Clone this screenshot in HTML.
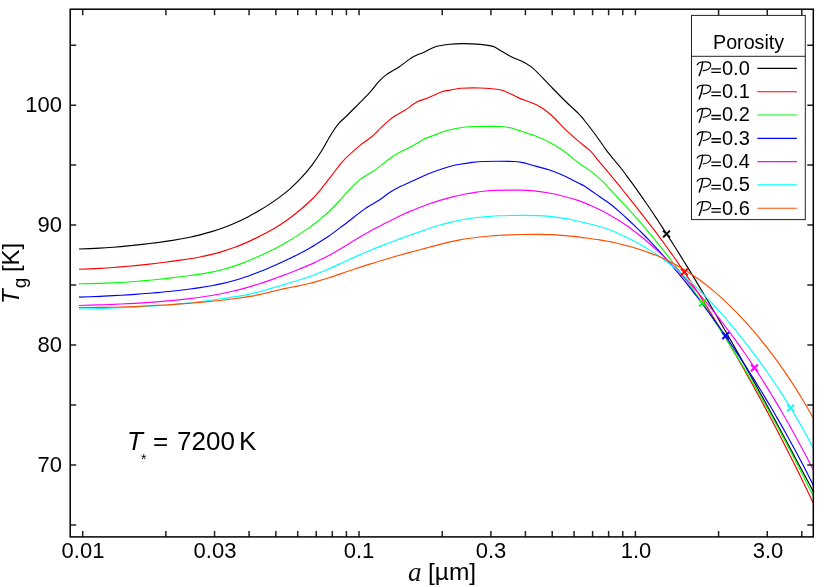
<!DOCTYPE html><html><head><meta charset="utf-8"><title>plot</title><style>
html,body{margin:0;padding:0;background:#fff;}
body{width:830px;height:587px;position:relative;overflow:hidden;font-family:"Liberation Sans",sans-serif;color:#000;}
.t{position:absolute;white-space:nowrap;line-height:1;will-change:transform;}
.xt{font-size:22px;transform:translateX(-50%);top:539.6px;}
.yt{font-size:22px;text-align:right;width:60px;left:1.7px;}
.lg{font-size:20px;left:721.9px;}
</style></head><body>
<svg width="830" height="587" viewBox="0 0 830 587" style="position:absolute;left:0;top:0">
<rect x="0" y="0" width="830" height="587" fill="#fff"/>
<defs><clipPath id="cp"><rect x="70.2" y="9.2" width="743.1" height="527.7"/></clipPath></defs>
<g clip-path="url(#cp)" fill="none" stroke-width="1.15" stroke-linejoin="round">
<path d="M79,249C81.8,248.89 95.41,248.42 100,248.18C104.59,247.94 109.67,247.53 113.4,247.22C117.13,246.91 124.15,246.26 128,245.88C131.85,245.5 138.43,244.77 142.3,244.34C146.17,243.91 153.15,243.11 157,242.62C160.85,242.13 166.8,241.39 171.2,240.67C175.6,239.95 186.16,238.01 190,237.24C193.84,236.47 197.11,235.65 200,234.91C202.89,234.17 208.77,232.56 211.7,231.67C214.63,230.78 219.11,229.28 222,228.22C224.89,227.16 229.96,225.21 233.4,223.7C236.84,222.19 244.24,218.71 247.8,216.89C251.36,215.07 257.14,211.8 260.1,210.06C263.06,208.32 267.35,205.63 270,203.87C272.65,202.11 277.33,198.88 280,196.88C282.67,194.88 287.33,191.2 290,188.84C292.67,186.48 297.12,182.31 300,179.2C302.88,176.09 308.71,169.35 311.6,165.55C314.49,161.75 319.01,155 321.7,150.7C324.39,146.4 329.49,136.97 331.8,133.3C334.11,129.63 337.03,125.51 339,123.2C340.97,120.89 343.95,118.61 346.6,116C349.25,113.39 355.91,106.61 358.9,103.6C361.89,100.59 366.29,96.39 369,93.4C371.71,90.41 376.88,83.71 379.2,81.2C381.52,78.69 383.71,76.53 386.4,74.6C389.09,72.67 395.93,69.01 399.4,66.7C402.87,64.39 409.12,59.23 412.4,57.3C415.68,55.37 420.92,53.61 424,52.2C427.08,50.79 432.03,47.77 435.5,46.7C438.97,45.63 446.33,44.61 450,44.2C453.67,43.79 459,43.57 463,43.6C467,43.63 476,44.03 480,44.4C484,44.77 490.11,45.49 493,46.4C495.89,47.31 499.19,49.79 501.7,51.2C504.21,52.61 509.11,55.65 511.8,57C514.49,58.35 519.39,60.05 521.9,61.3C524.41,62.55 528.48,64.85 530.6,66.4C532.72,67.95 534.91,70.02 537.8,72.9C540.69,75.78 548.45,84.05 552.3,88C556.15,91.95 563.23,99.13 566.7,102.5C570.17,105.87 575.98,110.97 578.3,113.3C580.62,115.63 582.23,117.71 584.1,120C585.97,122.29 590.29,127.83 592.3,130.5C594.31,133.17 597.28,137.31 599.2,140C601.12,142.69 604.73,148.06 606.7,150.69C608.67,153.32 612.07,157.37 614,159.75C615.93,162.13 619.33,166.13 621.2,168.51C623.07,170.89 626.16,175.1 628,177.59C629.84,180.08 633.13,184.59 635,187.19C636.87,189.79 640.13,194.41 642,197.09C643.87,199.77 647.13,204.51 649,207.26C650.87,210.01 654.13,214.87 656,217.68C657.87,220.49 661.13,225.46 663,228.33C664.87,231.2 668.13,236.26 670,239.18C671.87,242.1 675.13,247.26 677,250.23C678.87,253.2 682.13,258.44 684,261.45C685.87,264.46 689.13,269.78 691,272.84C692.87,275.9 696.13,281.29 698,284.39C699.87,287.49 703.13,292.95 705,296.09C706.87,299.23 710.13,304.75 712,307.93C713.87,311.11 717.13,316.7 719,319.91C720.87,323.12 724.13,328.78 726,332.03C727.87,335.28 731.13,340.99 733,344.27C734.87,347.55 738.13,353.33 740,356.64C741.87,359.95 745.13,365.78 747,369.12C748.87,372.46 752.13,378.35 754,381.72C755.87,385.09 759.13,391.02 761,394.42C762.87,397.82 766.13,403.79 768,407.22C769.87,410.65 773.13,416.66 775,420.11C776.87,423.56 780.13,429.61 782,433.07C783.87,436.53 787.13,442.61 789,446.09C790.87,449.57 794.13,455.67 796,459.16C797.87,462.65 801.13,468.76 803,472.25C804.87,475.74 808.71,482.92 810,485.34C811.29,487.76 811.9,488.89 812.7,490.38C813.5,491.87 815.56,495.72 816,496.54" stroke="#000000"/>
<path d="M79,269.3C81.8,269.18 95.41,268.63 100,268.39C104.59,268.15 109.67,267.79 113.4,267.51C117.13,267.23 124.15,266.65 128,266.3C131.85,265.95 138.43,265.3 142.3,264.89C146.17,264.48 153.15,263.67 157,263.21C160.85,262.75 166.8,262.01 171.2,261.41C175.6,260.81 186.16,259.33 190,258.73C193.84,258.13 197.11,257.52 200,256.94C202.89,256.36 208.77,255.11 211.7,254.4C214.63,253.69 219.11,252.48 222,251.6C224.89,250.72 230.47,248.9 233.4,247.83C236.33,246.76 241.11,244.85 244,243.61C246.89,242.37 252.97,239.51 255.1,238.51C257.23,237.51 258.55,236.82 260,236.08C261.45,235.34 263.77,234.2 266,232.97C268.23,231.74 274.03,228.52 276.7,226.89C279.37,225.26 284.07,222.06 286,220.73C287.93,219.4 289.33,218.38 291.2,216.94C293.07,215.5 297.29,212.24 300,209.95C302.71,207.66 308.61,202.62 311.5,199.73C314.39,196.84 318.99,191.56 321.7,188.3C324.41,185.04 329.11,178.77 331.8,175.3C334.49,171.83 339.39,165.19 341.9,162.3C344.41,159.41 348.09,155.92 350.6,153.6C353.11,151.28 357.81,147.22 360.7,144.9C363.59,142.58 369.59,138.51 372.3,136.2C375.01,133.89 378.88,129.61 381,127.6C383.12,125.59 386.36,122.65 388.2,121.1C390.04,119.55 392.53,117.47 394.8,116C397.07,114.53 402.28,111.95 405.2,110.1C408.12,108.25 413.62,103.74 416.7,102.1C419.78,100.46 425.02,99.15 428.3,97.8C431.58,96.45 438.41,93.03 441.3,92C444.19,90.97 447.37,90.59 450,90.1C452.63,89.61 457,88.58 461,88.3C465,88.02 474.96,87.84 480,88C485.04,88.16 495.33,89.01 498.8,89.5C502.27,89.99 503.49,90.65 506,91.7C508.51,92.75 514.71,96.12 517.6,97.4C520.49,98.68 525.19,100.33 527.7,101.3C530.21,102.27 534.28,103.67 536.4,104.7C538.52,105.73 541.68,107.65 543.6,109C545.52,110.35 549.11,113.33 550.8,114.8C552.49,116.27 554.62,118.29 556.3,120C557.98,121.71 560.53,124.85 563.4,127.6C566.27,130.35 574.15,137.43 577.8,140.6C581.45,143.77 587.89,148.52 590.8,151.4C593.71,154.28 597.13,159.24 599.6,162.2C602.07,165.16 606.67,170.44 609.3,173.58C611.93,176.72 616.81,182.66 619.3,185.73C621.79,188.8 625.91,194.02 628,196.64C630.09,199.26 633.13,203.05 635,205.4C636.87,207.75 640.13,211.89 642,214.27C643.87,216.65 647.13,220.85 649,223.28C650.87,225.71 654.13,229.99 656,232.47C657.87,234.95 661.13,239.35 663,241.89C664.87,244.43 668.13,248.93 670,251.54C671.87,254.15 675.13,258.77 677,261.45C678.87,264.13 682.13,268.88 684,271.63C685.87,274.38 689.13,279.25 691,282.07C692.87,284.89 696.13,289.9 698,292.79C699.87,295.68 703.13,300.8 705,303.76C706.87,306.72 710.13,311.97 712,315C713.87,318.03 717.13,323.39 719,326.48C720.87,329.57 724.13,335.05 726,338.21C727.87,341.37 731.13,346.94 733,350.16C734.87,353.38 738.13,359.06 740,362.33C741.87,365.6 745.13,371.38 747,374.71C748.87,378.04 752.13,383.92 754,387.3C755.87,390.68 759.13,396.65 761,400.09C762.87,403.53 766.13,409.6 768,413.09C769.87,416.58 773.13,422.75 775,426.3C776.87,429.85 780.13,436.12 782,439.74C783.87,443.36 787.13,449.74 789,453.42C790.87,457.1 794.13,463.61 796,467.37C797.87,471.13 801.13,477.78 803,481.63C804.87,485.48 808.71,493.53 810,496.24C811.29,498.95 811.9,500.27 812.7,501.98C813.5,503.69 815.56,508.14 816,509.09" stroke="#ff0000"/>
<path d="M79,283.8C81.8,283.75 95.41,283.53 100,283.41C104.59,283.29 109.67,283.07 113.4,282.88C117.13,282.69 124.15,282.27 128,282.01C131.85,281.75 138.43,281.23 142.3,280.9C146.17,280.57 153.15,279.9 157,279.5C160.85,279.1 166.8,278.43 171.2,277.9C175.6,277.37 186.16,276.02 190,275.51C193.84,275 197.11,274.56 200,274.11C202.89,273.66 208.77,272.69 211.7,272.11C214.63,271.53 219.11,270.5 222,269.74C224.89,268.98 230.47,267.36 233.4,266.41C236.33,265.46 241.11,263.73 244,262.6C246.89,261.47 252.97,258.83 255.1,257.92C257.23,257.01 258.55,256.4 260,255.74C261.45,255.08 263.77,254.05 266,252.98C268.23,251.91 273.9,249.19 276.7,247.72C279.5,246.25 284.11,243.64 287,241.93C289.89,240.22 295.33,236.86 298.4,234.88C301.47,232.9 307.85,228.59 310,227.11C312.15,225.63 313.26,224.71 314.5,223.75C315.74,222.79 317.38,221.56 319.3,219.92C321.22,218.28 326.11,214.14 328.9,211.48C331.69,208.82 337.31,203.09 340.2,200C343.09,196.91 347.87,191.11 350.6,188.3C353.33,185.49 357.81,181.11 360.7,178.9C363.59,176.69 369.41,173.63 372.3,171.7C375.19,169.77 379.71,166.43 382.4,164.4C385.09,162.37 389.99,158.23 392.5,156.5C395.01,154.77 398.69,152.72 401.2,151.4C403.71,150.08 408.79,147.91 411.3,146.6C413.81,145.29 418.24,142.64 420,141.6C421.76,140.56 422.63,139.65 424.5,138.8C426.37,137.95 431.12,136.27 434,135.2C436.88,134.13 442.17,131.87 446.1,130.8C450.03,129.73 459.63,127.77 463.5,127.2C467.37,126.63 470.09,126.59 475.1,126.5C480.11,126.41 496.29,126.3 501.1,126.5C505.91,126.7 508.51,127.36 511.2,128C513.89,128.64 518.79,130.47 521.3,131.3C523.81,132.13 528.24,133.64 530,134.2C531.76,134.76 531.98,134.46 534.5,135.5C537.02,136.54 545.05,139.97 548.9,142C552.75,144.03 559.55,147.99 563.4,150.7C567.25,153.41 573.95,159.41 577.8,162.3C581.65,165.19 588.82,169.69 592.3,172.4C595.78,175.11 601.94,180.79 603.9,182.61C605.86,184.43 605.85,184.78 607,186.02C608.15,187.26 610.83,190.13 612.5,191.93C614.17,193.73 617.43,197.3 619.5,199.52C621.57,201.74 625.93,206.3 628,208.55C630.07,210.8 633.13,214.29 635,216.41C636.87,218.53 640.13,222.29 642,224.46C643.87,226.63 647.13,230.49 649,232.72C650.87,234.95 654.13,238.91 656,241.2C657.87,243.49 661.13,247.54 663,249.89C664.87,252.24 668.13,256.39 670,258.8C671.87,261.21 675.13,265.47 677,267.94C678.87,270.41 682.13,274.79 684,277.32C685.87,279.85 689.13,284.33 691,286.93C692.87,289.53 696.13,294.13 698,296.79C699.87,299.45 703.13,304.17 705,306.9C706.87,309.63 710.13,314.46 712,317.26C713.87,320.06 717.13,325.01 719,327.87C720.87,330.73 724.13,335.81 726,338.74C727.87,341.67 731.13,346.88 733,349.88C734.87,352.88 738.13,358.2 740,361.27C741.87,364.34 745.13,369.79 747,372.93C748.87,376.07 752.13,381.64 754,384.85C755.87,388.06 759.13,393.75 761,397.03C762.87,400.31 766.13,406.13 768,409.48C769.87,412.83 773.13,418.76 775,422.18C776.87,425.6 780.13,431.65 782,435.14C783.87,438.63 787.13,444.79 789,448.35C790.87,451.91 794.13,458.19 796,461.81C797.87,465.43 801.13,471.83 803,475.52C804.87,479.21 808.71,486.88 810,489.46C811.29,492.04 811.9,493.28 812.7,494.9C813.5,496.52 815.56,500.7 816,501.59" stroke="#00ff00"/>
<path d="M79,297.1C81.8,297 95.41,296.51 100,296.32C104.59,296.13 109.67,295.88 113.4,295.68C117.13,295.48 124.15,295.06 128,294.81C131.85,294.56 138.43,294.09 142.3,293.8C146.17,293.51 153.15,292.96 157,292.62C160.85,292.28 166.8,291.75 171.2,291.27C175.6,290.79 186.16,289.52 190,289.04C193.84,288.56 197.11,288.1 200,287.67C202.89,287.24 208.77,286.32 211.7,285.79C214.63,285.26 219.11,284.34 222,283.67C224.89,283 230.47,281.58 233.4,280.75C236.33,279.92 241.11,278.44 244,277.47C246.89,276.5 252.97,274.27 255.1,273.48C257.23,272.69 258.55,272.15 260,271.58C261.45,271.01 263.77,270.1 266,269.17C268.23,268.24 273.9,265.84 276.7,264.59C279.5,263.34 284.11,261.21 287,259.82C289.89,258.43 295.33,255.74 298.4,254.15C301.47,252.56 307.85,249.08 310,247.89C312.15,246.7 311.98,246.85 314.5,245.26C317.02,243.67 325.05,238.65 328.9,235.98C332.75,233.31 340.53,227.33 343.4,225.2C346.27,223.07 348.48,221.48 350.4,220C352.32,218.52 355.47,215.86 357.8,214.1C360.13,212.34 365.02,208.68 367.9,206.8C370.78,204.92 376.51,201.89 379.4,200C382.29,198.11 386.69,194.45 389.6,192.6C392.51,190.75 398.31,187.57 401.2,186.1C404.09,184.63 408.79,182.73 411.3,181.6C413.81,180.47 417.87,178.59 420,177.6C422.13,176.61 424.9,175.19 427.3,174.2C429.7,173.21 434.91,171.25 438,170.2C441.09,169.15 447.57,167.09 450.5,166.3C453.43,165.51 457.31,164.79 460,164.3C462.69,163.81 467.54,162.97 470.7,162.6C473.86,162.23 477.91,161.65 483.7,161.5C489.49,161.35 508.89,161.35 514.1,161.5C519.31,161.65 520.68,162.2 522.8,162.6C524.92,163 528.44,164.06 530,164.5C531.56,164.94 531.98,165.19 534.5,165.9C537.02,166.61 545.05,168.51 548.9,169.8C552.75,171.09 559.55,173.87 563.4,175.6C567.25,177.33 575.01,181.41 577.8,182.8C580.59,184.19 582.37,184.84 584.3,186C586.23,187.16 590.23,190.07 592.3,191.5C594.37,192.93 597.49,195.1 599.8,196.7C602.11,198.3 607,201.51 609.6,203.5C612.2,205.49 616.85,209.52 619.3,211.65C621.75,213.78 625.91,217.56 628,219.49C630.09,221.42 633.13,224.29 635,226.09C636.87,227.89 640.13,231.1 642,232.97C643.87,234.84 647.13,238.2 649,240.15C650.87,242.1 654.13,245.58 656,247.6C657.87,249.62 661.13,253.23 663,255.33C664.87,257.43 668.13,261.17 670,263.34C671.87,265.51 675.13,269.38 677,271.62C678.87,273.86 682.13,277.85 684,280.16C685.87,282.47 689.13,286.58 691,288.96C692.87,291.34 696.13,295.57 698,298.02C699.87,300.47 703.13,304.81 705,307.33C706.87,309.85 710.13,314.31 712,316.89C713.87,319.47 717.13,324.04 719,326.69C720.87,329.34 724.13,334.03 726,336.74C727.87,339.45 731.13,344.25 733,347.03C734.87,349.81 738.13,354.72 740,357.57C741.87,360.42 745.13,365.46 747,368.37C748.87,371.28 752.13,376.44 754,379.42C755.87,382.4 759.13,387.68 761,390.73C762.87,393.78 766.13,399.2 768,402.33C769.87,405.46 773.13,411 775,414.21C776.87,417.42 780.13,423.1 782,426.4C783.87,429.7 787.13,435.54 789,438.93C790.87,442.32 794.13,448.32 796,451.8C797.87,455.28 801.13,461.47 803,465.06C804.87,468.65 808.71,476.19 810,478.73C811.29,481.27 811.9,482.51 812.7,484.12C813.5,485.73 815.56,489.91 816,490.8" stroke="#0000ff"/>
<path d="M79,305.5C81.8,305.42 95.41,305.04 100,304.88C104.59,304.72 109.67,304.49 113.4,304.33C117.13,304.17 124.15,303.88 128,303.69C131.85,303.5 138.43,303.14 142.3,302.9C146.17,302.66 153.15,302.19 157,301.9C160.85,301.61 166.8,301.13 171.2,300.69C175.6,300.25 185.49,299.16 190,298.59C194.51,298.02 201.05,297.07 205,296.45C208.95,295.83 215.81,294.69 219.6,293.96C223.39,293.23 230.15,291.75 233.4,291C236.65,290.25 241.11,289.11 244,288.33C246.89,287.55 252.97,285.76 255.1,285.13C257.23,284.5 258.55,284.06 260,283.59C261.45,283.12 263.77,282.36 266,281.59C268.23,280.82 273.9,278.81 276.7,277.8C279.5,276.79 284.11,275.1 287,274C289.89,272.9 295.33,270.8 298.4,269.55C301.47,268.3 307.85,265.58 310,264.65C312.15,263.72 311.98,263.83 314.5,262.61C317.02,261.39 325.05,257.55 328.9,255.48C332.75,253.41 339.55,249.34 343.4,247.05C347.25,244.76 353.95,240.56 357.8,238.29C361.65,236.02 369.34,231.68 372.3,230.04C375.26,228.4 378.08,226.98 380,225.98C381.92,224.98 383.87,223.95 386.7,222.53C389.53,221.11 398.09,216.81 401.2,215.32C404.31,213.83 407.49,212.44 410,211.37C412.51,210.3 417.4,208.29 420,207.28C422.6,206.27 426.83,204.71 429.5,203.79C432.17,202.87 436.81,201.31 440,200.36C443.19,199.41 450.2,197.45 453.4,196.64C456.6,195.83 461.11,194.83 464,194.26C466.89,193.69 472.43,192.74 475.1,192.33C477.77,191.92 481.49,191.46 484,191.2C486.51,190.94 489.1,190.53 493.9,190.39C498.7,190.25 514.97,190.12 520,190.16C525.03,190.2 527.75,190.29 531.6,190.67C535.45,191.05 544.66,192.3 548.9,193.04C553.14,193.78 559.55,195.24 563.4,196.22C567.25,197.2 573.95,199.07 577.8,200.4C581.65,201.73 589.34,204.9 592.3,206.16C595.26,207.42 597.69,208.66 600,209.83C602.31,211 607.03,213.5 609.6,214.95C612.17,216.4 616.85,219.17 619.3,220.72C621.75,222.27 625.91,225.12 628,226.59C630.09,228.06 633.13,230.34 635,231.77C636.87,233.2 640.13,235.79 642,237.31C643.87,238.83 647.13,241.58 649,243.19C650.87,244.8 654.13,247.7 656,249.39C657.87,251.08 661.13,254.12 663,255.89C664.87,257.66 668.13,260.83 670,262.68C671.87,264.53 675.13,267.83 677,269.76C678.87,271.69 682.13,275.12 684,277.12C685.87,279.12 689.13,282.69 691,284.76C692.87,286.83 696.13,290.53 698,292.68C699.87,294.83 703.13,298.65 705,300.88C706.87,303.11 710.13,307.07 712,309.38C713.87,311.69 717.13,315.79 719,318.18C720.87,320.57 724.13,324.81 726,327.28C727.87,329.75 731.13,334.14 733,336.7C734.87,339.26 738.13,343.81 740,346.45C741.87,349.09 745.13,353.8 747,356.53C748.87,359.26 752.13,364.13 754,366.96C755.87,369.79 759.13,374.83 761,377.75C762.87,380.67 766.13,385.87 768,388.89C769.87,391.91 773.13,397.28 775,400.4C776.87,403.52 780.13,409.06 782,412.28C783.87,415.5 787.13,421.22 789,424.54C790.87,427.86 794.13,433.75 796,437.17C797.87,440.59 801.13,446.66 803,450.17C804.87,453.68 808.71,461.04 810,463.52C811.29,466 811.9,467.21 812.7,468.77C813.5,470.33 815.56,474.39 816,475.25" stroke="#ff00ff"/>
<path d="M79,309C81.8,308.93 95.41,308.61 100,308.48C104.59,308.35 109.67,308.16 113.4,308.03C117.13,307.9 124.15,307.64 128,307.47C131.85,307.3 138.43,306.94 142.3,306.72C146.17,306.5 153.15,306.06 157,305.79C160.85,305.52 166.8,305.09 171.2,304.7C175.6,304.31 185.49,303.37 190,302.88C194.51,302.39 201,301.53 205,301.01C209,300.49 215.87,299.54 220,298.96C224.13,298.38 231.91,297.3 236,296.63C240.09,295.96 247.5,294.58 250.7,293.91C253.9,293.24 258.36,292.04 260,291.63C261.64,291.22 260.77,291.47 263,290.81C265.23,290.15 273.5,287.66 276.7,286.7C279.9,285.74 284.11,284.47 287,283.6C289.89,282.73 295.33,281.14 298.4,280.18C301.47,279.22 307.85,277.13 310,276.41C312.15,275.69 311.98,275.79 314.5,274.77C317.02,273.75 325.05,270.45 328.9,268.77C332.75,267.09 339.55,263.95 343.4,262.2C347.25,260.45 353.95,257.33 357.8,255.63C361.65,253.93 369.34,250.69 372.3,249.46C375.26,248.23 378.08,247.16 380,246.4C381.92,245.64 383.87,244.86 386.7,243.79C389.53,242.72 398.09,239.49 401.2,238.35C404.31,237.21 407.49,236.11 410,235.22C412.51,234.33 417.33,232.63 420,231.7C422.67,230.77 427.33,229.12 430,228.23C432.67,227.34 437.33,225.83 440,225.05C442.67,224.27 447.33,223 450,222.35C452.67,221.7 457.33,220.7 460,220.19C462.67,219.68 467.33,218.89 470,218.49C472.67,218.09 477.33,217.5 480,217.21C482.67,216.92 487.33,216.5 490,216.31C492.67,216.12 497.33,215.89 500,215.78C502.67,215.67 507.33,215.56 510,215.51C512.67,215.46 516.16,215.4 520,215.42C523.84,215.44 533.99,215.41 538.8,215.64C543.61,215.87 551.86,216.61 556.1,217.13C560.34,217.65 566.73,218.79 570.6,219.54C574.47,220.29 581.25,221.82 585.1,222.75C588.95,223.68 596.23,225.56 599.5,226.5C602.77,227.44 606.96,228.84 609.6,229.83C612.24,230.82 616.85,232.85 619.3,233.94C621.75,235.03 625.91,237.02 628,238.04C630.09,239.06 633.13,240.62 635,241.61C636.87,242.6 640.13,244.39 642,245.46C643.87,246.53 647.13,248.46 649,249.62C650.87,250.78 654.13,252.88 656,254.13C657.87,255.38 661.13,257.64 663,258.99C664.87,260.34 668.13,262.78 670,264.23C671.87,265.68 675.13,268.3 677,269.84C678.87,271.38 682.13,274.17 684,275.81C685.87,277.45 689.13,280.41 691,282.15C692.87,283.89 696.13,287.02 698,288.85C699.87,290.68 703.13,293.97 705,295.89C706.87,297.81 710.13,301.24 712,303.25C713.87,305.26 717.13,308.85 719,310.94C720.87,313.03 724.13,316.77 726,318.94C727.87,321.11 731.13,324.98 733,327.23C734.87,329.48 738.13,333.5 740,335.83C741.87,338.16 745.13,342.31 747,344.72C748.87,347.13 752.13,351.42 754,353.91C755.87,356.4 759.13,360.84 761,363.42C762.87,366 766.13,370.59 768,373.27C769.87,375.95 773.13,380.71 775,383.49C776.87,386.27 780.13,391.23 782,394.13C783.87,397.03 787.13,402.19 789,405.22C790.87,408.25 794.13,413.67 796,416.85C797.87,420.03 801.13,425.73 803,429.09C804.87,432.45 808.71,439.6 810,442.02C811.29,444.44 811.9,445.66 812.7,447.23C813.5,448.8 815.56,452.89 816,453.76" stroke="#00ffff"/>
<path d="M79,307.5C81.8,307.49 95.41,307.45 100,307.41C104.59,307.37 109.67,307.29 113.4,307.2C117.13,307.11 124.15,306.91 128,306.77C131.85,306.63 138.43,306.31 142.3,306.13C146.17,305.95 153.15,305.61 157,305.4C160.85,305.19 166.8,304.88 171.2,304.59C175.6,304.3 185.49,303.55 190,303.2C194.51,302.85 201,302.29 205,301.93C209,301.57 215.87,300.94 220,300.48C224.13,300.02 232,299.03 236,298.48C240,297.93 246.8,296.92 250,296.39C253.2,295.86 258.36,294.84 260,294.52C261.64,294.2 260.07,294.56 262.3,294.02C264.53,293.48 273.41,291.24 276.7,290.46C279.99,289.68 284.11,288.75 287,288.14C289.89,287.53 295.33,286.52 298.4,285.87C301.47,285.22 307.85,283.8 310,283.3C312.15,282.8 311.98,282.85 314.5,282.11C317.02,281.37 325.05,278.95 328.9,277.72C332.75,276.49 339.55,274.19 343.4,272.89C347.25,271.59 353.95,269.21 357.8,267.94C361.65,266.67 369.34,264.3 372.3,263.38C375.26,262.46 378.08,261.65 380,261.07C381.92,260.49 383.87,259.87 386.7,259.02C389.53,258.17 398.09,255.6 401.2,254.71C404.31,253.82 407.49,253.03 410,252.37C412.51,251.71 417.33,250.47 420,249.76C422.67,249.05 427.33,247.77 430,247.05C432.67,246.33 437.33,245.02 440,244.33C442.67,243.64 447.33,242.47 450,241.87C452.67,241.27 457.33,240.31 460,239.82C462.67,239.33 467.33,238.6 470,238.22C472.67,237.84 477.33,237.27 480,236.97C482.67,236.67 487.33,236.22 490,236C492.67,235.78 497.33,235.45 500,235.29C502.67,235.13 507.33,234.93 510,234.83C512.67,234.73 516.67,234.61 520,234.55C523.33,234.49 530.76,234.35 535,234.36C539.24,234.37 547.05,234.35 551.8,234.59C556.55,234.83 566.16,235.74 570.6,236.19C575.04,236.64 581.25,237.44 585.1,237.93C588.95,238.42 595.65,239.27 599.5,239.88C603.35,240.49 610.2,241.66 614,242.47C617.8,243.28 625.2,245.25 628,245.99C630.8,246.73 633.13,247.43 635,247.99C636.87,248.55 640.13,249.56 642,250.18C643.87,250.8 647.13,251.92 649,252.61C650.87,253.3 654.13,254.56 656,255.33C657.87,256.1 661.13,257.5 663,258.35C664.87,259.2 668.13,260.77 670,261.71C671.87,262.65 675.13,264.38 677,265.42C678.87,266.46 682.13,268.36 684,269.5C685.87,270.64 689.13,272.72 691,273.96C692.87,275.2 696.13,277.46 698,278.8C699.87,280.14 703.13,282.58 705,284.03C706.87,285.48 710.13,288.1 712,289.65C713.87,291.2 717.13,294.01 719,295.67C720.87,297.33 724.13,300.31 726,302.07C727.87,303.83 731.13,307 733,308.87C734.87,310.74 738.13,314.09 740,316.06C741.87,318.03 745.13,321.57 747,323.65C748.87,325.73 752.13,329.46 754,331.65C755.87,333.84 759.13,337.75 761,340.05C762.87,342.35 766.13,346.48 768,348.89C769.87,351.3 773.13,355.62 775,358.16C776.87,360.7 780.13,365.24 782,367.91C783.87,370.58 787.13,375.35 789,378.15C790.87,380.95 794.13,385.98 796,388.93C797.87,391.88 801.13,397.17 803,400.28C804.87,403.39 808.71,410.03 810,412.27C811.29,414.51 811.9,415.64 812.7,417.08C813.5,418.52 815.56,422.3 816,423.1" stroke="#ff4d00"/>
</g>
<g stroke-width="2" fill="none">
<path d="M663.1,230.6 L669.9,237.4 M663.1,237.4 L669.9,230.6" stroke="#000000"/>
<path d="M680.9,268.6 L687.7,275.4 M680.9,275.4 L687.7,268.6" stroke="#ff0000"/>
<path d="M699.1,299.6 L705.9,306.4 M699.1,306.4 L705.9,299.6" stroke="#00ff00"/>
<path d="M722.3,332.3 L729.1,339.1 M722.3,339.1 L729.1,332.3" stroke="#0000ff"/>
<path d="M751,364.5 L757.8,371.3 M751,371.3 L757.8,364.5" stroke="#ff00ff"/>
<path d="M787.2,404.6 L794,411.4 M787.2,411.4 L794,404.6" stroke="#00ffff"/>
</g>
<path d="M82.7,536.9 v-6 M82.7,9.2 v6 M165.89,536.9 v-6 M165.89,9.2 v6 M214.55,536.9 v-6 M214.55,9.2 v6 M249.08,536.9 v-6 M249.08,9.2 v6 M275.86,536.9 v-6 M275.86,9.2 v6 M297.74,536.9 v-6 M297.74,9.2 v6 M316.24,536.9 v-6 M316.24,9.2 v6 M332.27,536.9 v-6 M332.27,9.2 v6 M346.4,536.9 v-6 M346.4,9.2 v6 M359.05,536.9 v-6 M359.05,9.2 v6 M442.24,536.9 v-6 M442.24,9.2 v6 M490.9,536.9 v-6 M490.9,9.2 v6 M525.43,536.9 v-6 M525.43,9.2 v6 M552.21,536.9 v-6 M552.21,9.2 v6 M574.09,536.9 v-6 M574.09,9.2 v6 M592.59,536.9 v-6 M592.59,9.2 v6 M608.62,536.9 v-6 M608.62,9.2 v6 M622.75,536.9 v-6 M622.75,9.2 v6 M635.4,536.9 v-6 M635.4,9.2 v6 M718.59,536.9 v-6 M718.59,9.2 v6 M767.25,536.9 v-6 M767.25,9.2 v6 M801.78,536.9 v-6 M801.78,9.2 v6 M70.2,524.91 h6 M813.3,524.91 h-6 M70.2,464.94 h6 M813.3,464.94 h-6 M70.2,404.97 h6 M813.3,404.97 h-6 M70.2,345.01 h6 M813.3,345.01 h-6 M70.2,285.04 h6 M813.3,285.04 h-6 M70.2,225.08 h6 M813.3,225.08 h-6 M70.2,165.11 h6 M813.3,165.11 h-6 M70.2,105.15 h6 M813.3,105.15 h-6 M70.2,45.18 h6 M813.3,45.18 h-6" stroke="#222" stroke-width="1.5" fill="none"/>
<rect x="70.2" y="9.2" width="743.1" height="527.7" fill="none" stroke="#000" stroke-width="1.5"/>
<rect x="691.5" y="15.4" width="113.8" height="204.2" fill="#fff" stroke="#222" stroke-width="1"/>
<path d="M691.5,56.3 H805.3" stroke="#222" stroke-width="1"/>
<path d="M757.4,68.4 H796.9" stroke="#000000" stroke-width="1.15"/>
<path d="M711.4,68.85 H720.9 M711.4,72.35 H720.9" stroke="#000" stroke-width="1.35"/>
<g transform="translate(696.9,61.6)" fill="none" stroke="#000" stroke-linecap="round" stroke-linejoin="round"><path stroke-width="1.15" d="M0.3,3.2 C0.9,1.6 2.6,0.6 5.1,0.4 L9,0.2 C12,0.2 13.8,1.5 13.8,3.7 C13.8,6.4 10.6,8.9 6.3,9"/><path stroke-width="1.45" d="M5.8,0.5 C5.4,4.6 4.3,9.6 2.3,14"/></g>
<path d="M757.4,91.7 H796.9" stroke="#ff0000" stroke-width="1.15"/>
<path d="M711.4,92.15 H720.9 M711.4,95.65 H720.9" stroke="#000" stroke-width="1.35"/>
<g transform="translate(696.9,84.9)" fill="none" stroke="#000" stroke-linecap="round" stroke-linejoin="round"><path stroke-width="1.15" d="M0.3,3.2 C0.9,1.6 2.6,0.6 5.1,0.4 L9,0.2 C12,0.2 13.8,1.5 13.8,3.7 C13.8,6.4 10.6,8.9 6.3,9"/><path stroke-width="1.45" d="M5.8,0.5 C5.4,4.6 4.3,9.6 2.3,14"/></g>
<path d="M757.4,115 H796.9" stroke="#00ff00" stroke-width="1.15"/>
<path d="M711.4,115.45 H720.9 M711.4,118.95 H720.9" stroke="#000" stroke-width="1.35"/>
<g transform="translate(696.9,108.2)" fill="none" stroke="#000" stroke-linecap="round" stroke-linejoin="round"><path stroke-width="1.15" d="M0.3,3.2 C0.9,1.6 2.6,0.6 5.1,0.4 L9,0.2 C12,0.2 13.8,1.5 13.8,3.7 C13.8,6.4 10.6,8.9 6.3,9"/><path stroke-width="1.45" d="M5.8,0.5 C5.4,4.6 4.3,9.6 2.3,14"/></g>
<path d="M757.4,138.3 H796.9" stroke="#0000ff" stroke-width="1.15"/>
<path d="M711.4,138.75 H720.9 M711.4,142.25 H720.9" stroke="#000" stroke-width="1.35"/>
<g transform="translate(696.9,131.5)" fill="none" stroke="#000" stroke-linecap="round" stroke-linejoin="round"><path stroke-width="1.15" d="M0.3,3.2 C0.9,1.6 2.6,0.6 5.1,0.4 L9,0.2 C12,0.2 13.8,1.5 13.8,3.7 C13.8,6.4 10.6,8.9 6.3,9"/><path stroke-width="1.45" d="M5.8,0.5 C5.4,4.6 4.3,9.6 2.3,14"/></g>
<path d="M757.4,161.6 H796.9" stroke="#ff00ff" stroke-width="1.15"/>
<path d="M711.4,162.05 H720.9 M711.4,165.55 H720.9" stroke="#000" stroke-width="1.35"/>
<g transform="translate(696.9,154.8)" fill="none" stroke="#000" stroke-linecap="round" stroke-linejoin="round"><path stroke-width="1.15" d="M0.3,3.2 C0.9,1.6 2.6,0.6 5.1,0.4 L9,0.2 C12,0.2 13.8,1.5 13.8,3.7 C13.8,6.4 10.6,8.9 6.3,9"/><path stroke-width="1.45" d="M5.8,0.5 C5.4,4.6 4.3,9.6 2.3,14"/></g>
<path d="M757.4,184.9 H796.9" stroke="#00ffff" stroke-width="1.15"/>
<path d="M711.4,185.35 H720.9 M711.4,188.85 H720.9" stroke="#000" stroke-width="1.35"/>
<g transform="translate(696.9,178.1)" fill="none" stroke="#000" stroke-linecap="round" stroke-linejoin="round"><path stroke-width="1.15" d="M0.3,3.2 C0.9,1.6 2.6,0.6 5.1,0.4 L9,0.2 C12,0.2 13.8,1.5 13.8,3.7 C13.8,6.4 10.6,8.9 6.3,9"/><path stroke-width="1.45" d="M5.8,0.5 C5.4,4.6 4.3,9.6 2.3,14"/></g>
<path d="M757.4,208.2 H796.9" stroke="#ff4d00" stroke-width="1.15"/>
<path d="M711.4,208.65 H720.9 M711.4,212.15 H720.9" stroke="#000" stroke-width="1.35"/>
<g transform="translate(696.9,201.4)" fill="none" stroke="#000" stroke-linecap="round" stroke-linejoin="round"><path stroke-width="1.15" d="M0.3,3.2 C0.9,1.6 2.6,0.6 5.1,0.4 L9,0.2 C12,0.2 13.8,1.5 13.8,3.7 C13.8,6.4 10.6,8.9 6.3,9"/><path stroke-width="1.45" d="M5.8,0.5 C5.4,4.6 4.3,9.6 2.3,14"/></g>
</svg>
<div class="t xt" style="left:83px">0.01</div>
<div class="t xt" style="left:214.85px">0.03</div>
<div class="t xt" style="left:359.35px">0.1</div>
<div class="t xt" style="left:491.2px">0.3</div>
<div class="t xt" style="left:635.7px">1.0</div>
<div class="t xt" style="left:767.55px">3.0</div>
<div class="t yt" style="top:454.14px">70</div>
<div class="t yt" style="top:334.21px">80</div>
<div class="t yt" style="top:214.28px">90</div>
<div class="t yt" style="top:94.35px">100</div>
<div class="t" style="font-size:19.7px;left:712.6px;top:32.5px;">Porosity</div>
<div class="t lg" style="top:57.7px">0.0</div>
<div class="t lg" style="top:81px">0.1</div>
<div class="t lg" style="top:104.3px">0.2</div>
<div class="t lg" style="top:127.6px">0.3</div>
<div class="t lg" style="top:150.9px">0.4</div>
<div class="t lg" style="top:174.2px">0.5</div>
<div class="t lg" style="top:197.5px">0.6</div>
<div class="t" style="font-size:26px;left:127.2px;top:428.1px;font-style:italic;">T</div>
<div class="t" style="font-size:14px;left:140.7px;top:451.6px;">*</div>
<div class="t" style="font-size:26px;left:153.4px;top:428.1px;">=</div>
<div class="t" style="font-size:26px;left:177.2px;top:428.1px;">7200</div>
<div class="t" style="font-size:26px;left:239.4px;top:428.1px;">K</div>
<div class="t" style="font-family:'Liberation Serif',serif;font-style:italic;font-size:27px;left:407.6px;top:558.8px;color:#111;">a</div>
<div class="t" style="font-size:24.5px;left:428.4px;top:560px;">[µm]</div>
<div class="t" style="font-size:24px;left:-1.1px;top:304px;width:0;height:0;"><div style="position:absolute;left:0;top:0;white-space:nowrap;line-height:1;transform-origin:0 0;transform:rotate(-90deg);"><i>T</i><span style="font-size:19px;position:relative;top:7px;left:1px;">g</span> [K]</div></div>
</body></html>
